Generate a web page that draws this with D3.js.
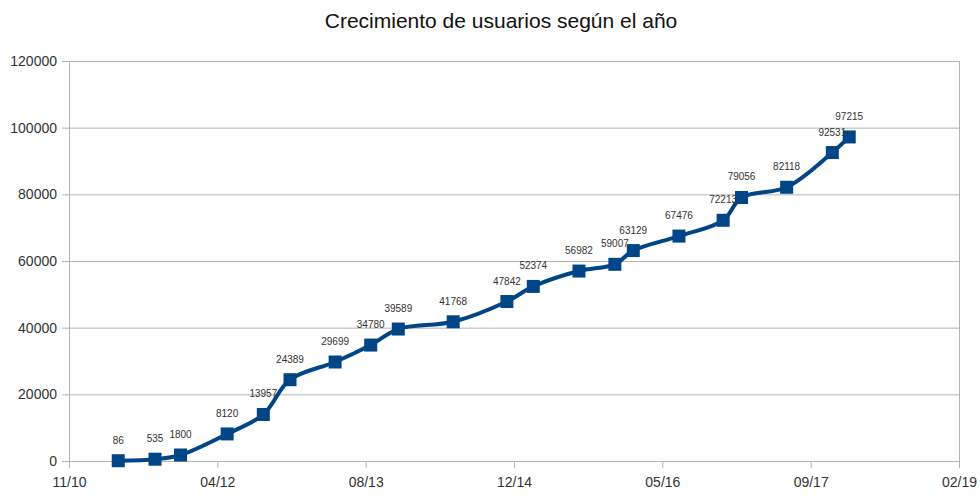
<!DOCTYPE html>
<html>
<head>
<meta charset="utf-8">
<script src="https://cdn.jsdelivr.net/npm/d3@7"></script>
<style>
    body { margin: 0; background: #fff; }
    text { font-family: "Liberation Sans", Arial, sans-serif; }
</style>
</head>
<body>
<svg id="chart" width="980" height="498"></svg>
<script>
// fechas de cada punto y usuarios acumulados
var fechas = ["2011-05-05", "2011-09-06", "2011-12-01", "2012-05-06", "2012-09-05", "2012-12-04",
    "2013-05-05", "2013-09-02", "2013-12-04", "2014-06-07", "2014-12-05", "2015-03-04",
    "2015-08-05", "2015-12-04", "2016-02-04", "2016-07-07", "2016-12-03", "2017-02-03",
    "2017-07-05", "2017-12-06", "2018-02-01"];
var usuarios = [86, 535, 1800, 8120, 13957, 24389, 29699, 34780, 39589, 41768, 47842, 52374,
    56982, 59007, 63129, 67476, 72213, 79056, 82118, 92531, 97215];
var yTicks = [0, 20000, 40000, 60000, 80000, 100000, 120000];
var xTickStep = 500; // days between axis labels
var titulo = "Crecimiento de usuarios según el año";

var parse = d3.timeParse("%Y-%m-%d");
var data = fechas.map(function (f, i) { return {date: parse(f), value: usuarios[i]}; });

var svg = d3.select("#chart"),
    margin = {top: 61, right: 21, bottom: 37, left: 69},
    width = +svg.attr("width") - margin.left - margin.right,
    height = +svg.attr("height") - margin.top - margin.bottom;

var start = parse("2010-11-20");
var xTicks = d3.range(0, 7).map(function (k) { return d3.timeDay.offset(start, k * xTickStep); });

var x = d3.scaleTime().domain([xTicks[0], xTicks[6]]).range([0, width]);
var y = d3.scaleLinear().domain([0, 120000]).range([height, 0]);

var g = svg.append("g").attr("transform", "translate(" + margin.left + "," + margin.top + ")");

// title
svg.append("text")
    .attr("x", 501)
    .attr("y", 28)
    .attr("text-anchor", "middle")
    .attr("fill", "#111")
    .style("font-size", "21px")
    .text(titulo);

// gridlines
g.selectAll(".grid")
    .data(yTicks)
    .enter().append("line")
    .attr("x1", 0).attr("x2", width)
    .attr("y1", function (d) { return y(d) + 0.5; })
    .attr("y2", function (d) { return y(d) + 0.5; })
    .attr("stroke", "#b3b3b3");

// right border
g.append("line")
    .attr("x1", width + 0.5).attr("x2", width + 0.5)
    .attr("y1", 0).attr("y2", height)
    .attr("stroke", "#b3b3b3");

var yAxis = d3.axisLeft(y).tickValues(yTicks).tickSize(7).tickPadding(5).tickFormat(d3.format("d"));
var xAxis = d3.axisBottom(x).tickValues(xTicks).tickSize(7).tickPadding(9).tickFormat(d3.timeFormat("%m/%y"));

var ya = g.append("g").call(yAxis);
var xa = g.append("g").attr("transform", "translate(0," + height + ")").call(xAxis);

[ya, xa].forEach(function (a) {
    a.select(".domain").attr("stroke", "#b3b3b3");
    a.selectAll(".tick line").attr("stroke", "#b3b3b3");
    a.selectAll(".tick text").attr("fill", "#333").style("font-size", "14px")
        .style("font-family", "'Liberation Sans', Arial, sans-serif");
});
ya.select(".domain").attr("d", "M0.5," + height + "V0.5");

// line
var line = d3.line()
    .x(function (d) { return x(d.date); })
    .y(function (d) { return y(d.value); })
    .curve(d3.curveCatmullRom.alpha(0.5));

g.append("path")
    .datum(data)
    .attr("fill", "none")
    .attr("stroke", "#004586")
    .attr("stroke-width", 4)
    .attr("d", line);

var ms = 13;
g.selectAll(".marker")
    .data(data)
    .enter().append("rect")
    .attr("x", function (d) { return x(d.date) - ms / 2; })
    .attr("y", function (d) { return y(d.value) - ms / 2; })
    .attr("width", ms)
    .attr("height", ms)
    .attr("fill", "#004586");

g.selectAll(".lbl")
    .data(data)
    .enter().append("text")
    .attr("x", function (d) { return x(d.date); })
    .attr("y", function (d) { return y(d.value) - 17; })
    .attr("text-anchor", "middle")
    .attr("fill", "#333")
    .style("font-size", "10px")
    .text(function (d) { return d.value; });
</script>
</body>
</html>
